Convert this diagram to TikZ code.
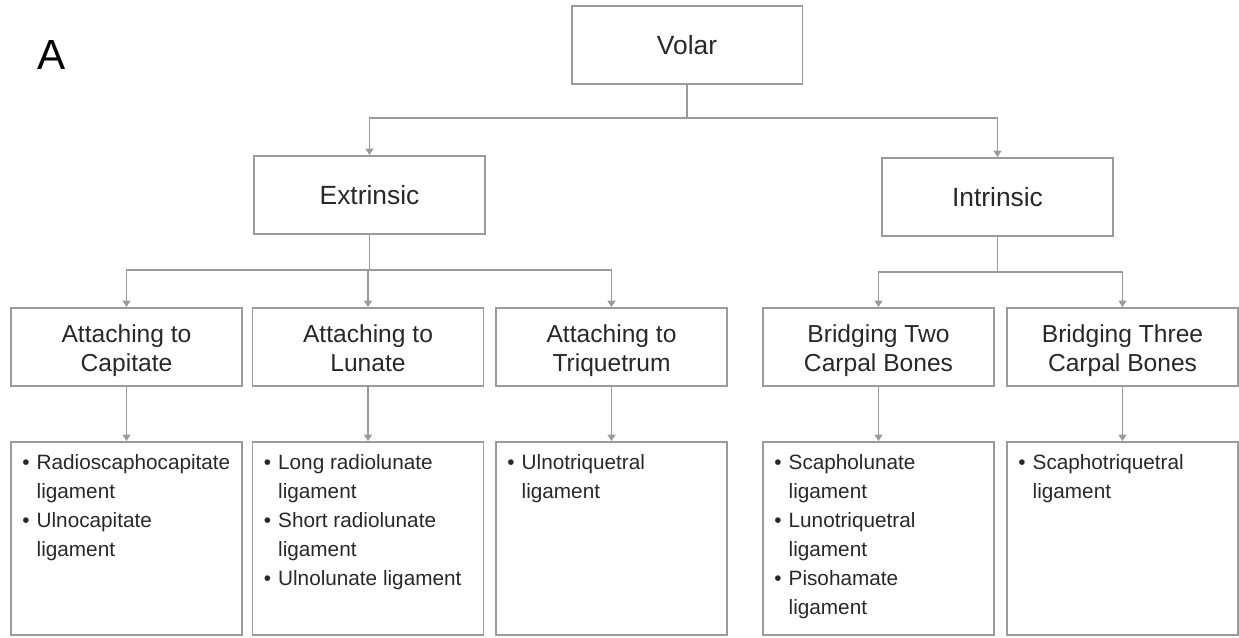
\documentclass[tikz,border=0pt]{standalone}
\usepackage{fontspec}
\setmainfont{Liberation Sans}
\usetikzlibrary{arrows.meta,positioning,calc}
\definecolor{linegray}{RGB}{155,155,155}
\definecolor{inkgray}{RGB}{40,40,40}
\tikzset{
  box/.style={draw=linegray, line width=1.1pt, minimum width=4.62cm, minimum height=1.56cm, inner sep=2pt, text=inkgray, align=center},
  toplevel/.style={box, font=\fontsize{15}{18}\selectfont},
  midlevel/.style={box, font=\fontsize{14}{17}\selectfont, text height=1.21cm, text depth=0.21cm},
  listbox/.style={draw=linegray, line width=1.1pt, minimum width=4.62cm, minimum height=3.86cm, inner sep=0pt},
  listtext/.style={anchor=base west, inner sep=0pt, text=inkgray, font=\fontsize{11.8}{16.6}\selectfont},
  link/.style={draw=linegray, line width=1.1pt},
  linkarrow/.style={link, -{Triangle[length=0.13cm,width=0.16cm]}}
}
% bullet list with hanging second lines
\newcommand{\liglist}[1]{\begin{tabular}[t]{@{}l@{\hspace{4pt}}l@{}}#1\end{tabular}}

\begin{document}
\begin{tikzpicture}[x=0.02cm,y=-0.02cm]
\useasboundingbox (0,0) rectangle (1239,638);

% Panel letter
\node[anchor=base,inner sep=0pt,font=\fontsize{24}{28}\selectfont] (panel) at (52,70) {A};

% Top levels
\node[toplevel] (volar) at (687,45) {Volar};
\node[toplevel] (extr) at (369.5,195) {Extrinsic};
\node[toplevel] (intr) at (997.5,197) {Intrinsic};

% Groups
\node[midlevel] (capit) at (126.5,347) {Attaching to\\Capitate};
\node[midlevel] (lun) at (368,347) {Attaching to\\Lunate};
\node[midlevel] (triq) at (611.5,347) {Attaching to\\Triquetrum};
\node[midlevel] (two) at (878.5,347) {Bridging Two\\Carpal Bones};
\node[midlevel] (three) at (1122.5,347) {Bridging Three\\Carpal Bones};

% Ligament lists
\foreach \n/\x in {capit/126.5,lun/368,triq/611.5,two/878.5,three/1122.5}
  \node[listbox] (\n-list) at (\x,538.5) {};

\node[listtext] (capit-txt) at ($(capit-list.north west)+(12,28)$)
  {\liglist{\textbullet & Radioscaphocapitate\\ & ligament\\ \textbullet & Ulnocapitate\\ & ligament}};
\node[listtext] (lun-txt) at ($(lun-list.north west)+(12,28)$)
  {\liglist{\textbullet & Long radiolunate\\ & ligament\\ \textbullet & Short radiolunate\\ & ligament\\ \textbullet & Ulnolunate ligament}};
\node[listtext] (triq-txt) at ($(triq-list.north west)+(12,28)$)
  {\liglist{\textbullet & Ulnotriquetral\\ & ligament}};
\node[listtext] (two-txt) at ($(two-list.north west)+(12,28)$)
  {\liglist{\textbullet & Scapholunate\\ & ligament\\ \textbullet & Lunotriquetral\\ & ligament\\ \textbullet & Pisohamate\\ & ligament}};
\node[listtext] (three-txt) at ($(three-list.north west)+(12,28)$)
  {\liglist{\textbullet & Scaphotriquetral\\ & ligament}};

% Connectors
\coordinate (bus-volar) at (0,118);
\coordinate (bus-extr) at (0,270);
\coordinate (bus-intr) at (0,272);

\draw[link] (volar.south) -- (volar.south |- bus-volar);
\draw[linkarrow] (volar.south |- bus-volar) -| (extr.north);
\draw[linkarrow] (volar.south |- bus-volar) -| (intr.north);

\draw[link] (extr.south) -- (extr.south |- bus-extr);
\foreach \n in {capit,lun,triq}
  \draw[linkarrow] (extr.south |- bus-extr) -| (\n.north);

\draw[link] (intr.south) -- (intr.south |- bus-intr);
\foreach \n in {two,three}
  \draw[linkarrow] (intr.south |- bus-intr) -| (\n.north);

\foreach \n in {capit,lun,triq,two,three}
  \draw[linkarrow] (\n.south) -- (\n-list.north);

\end{tikzpicture}
\end{document}
